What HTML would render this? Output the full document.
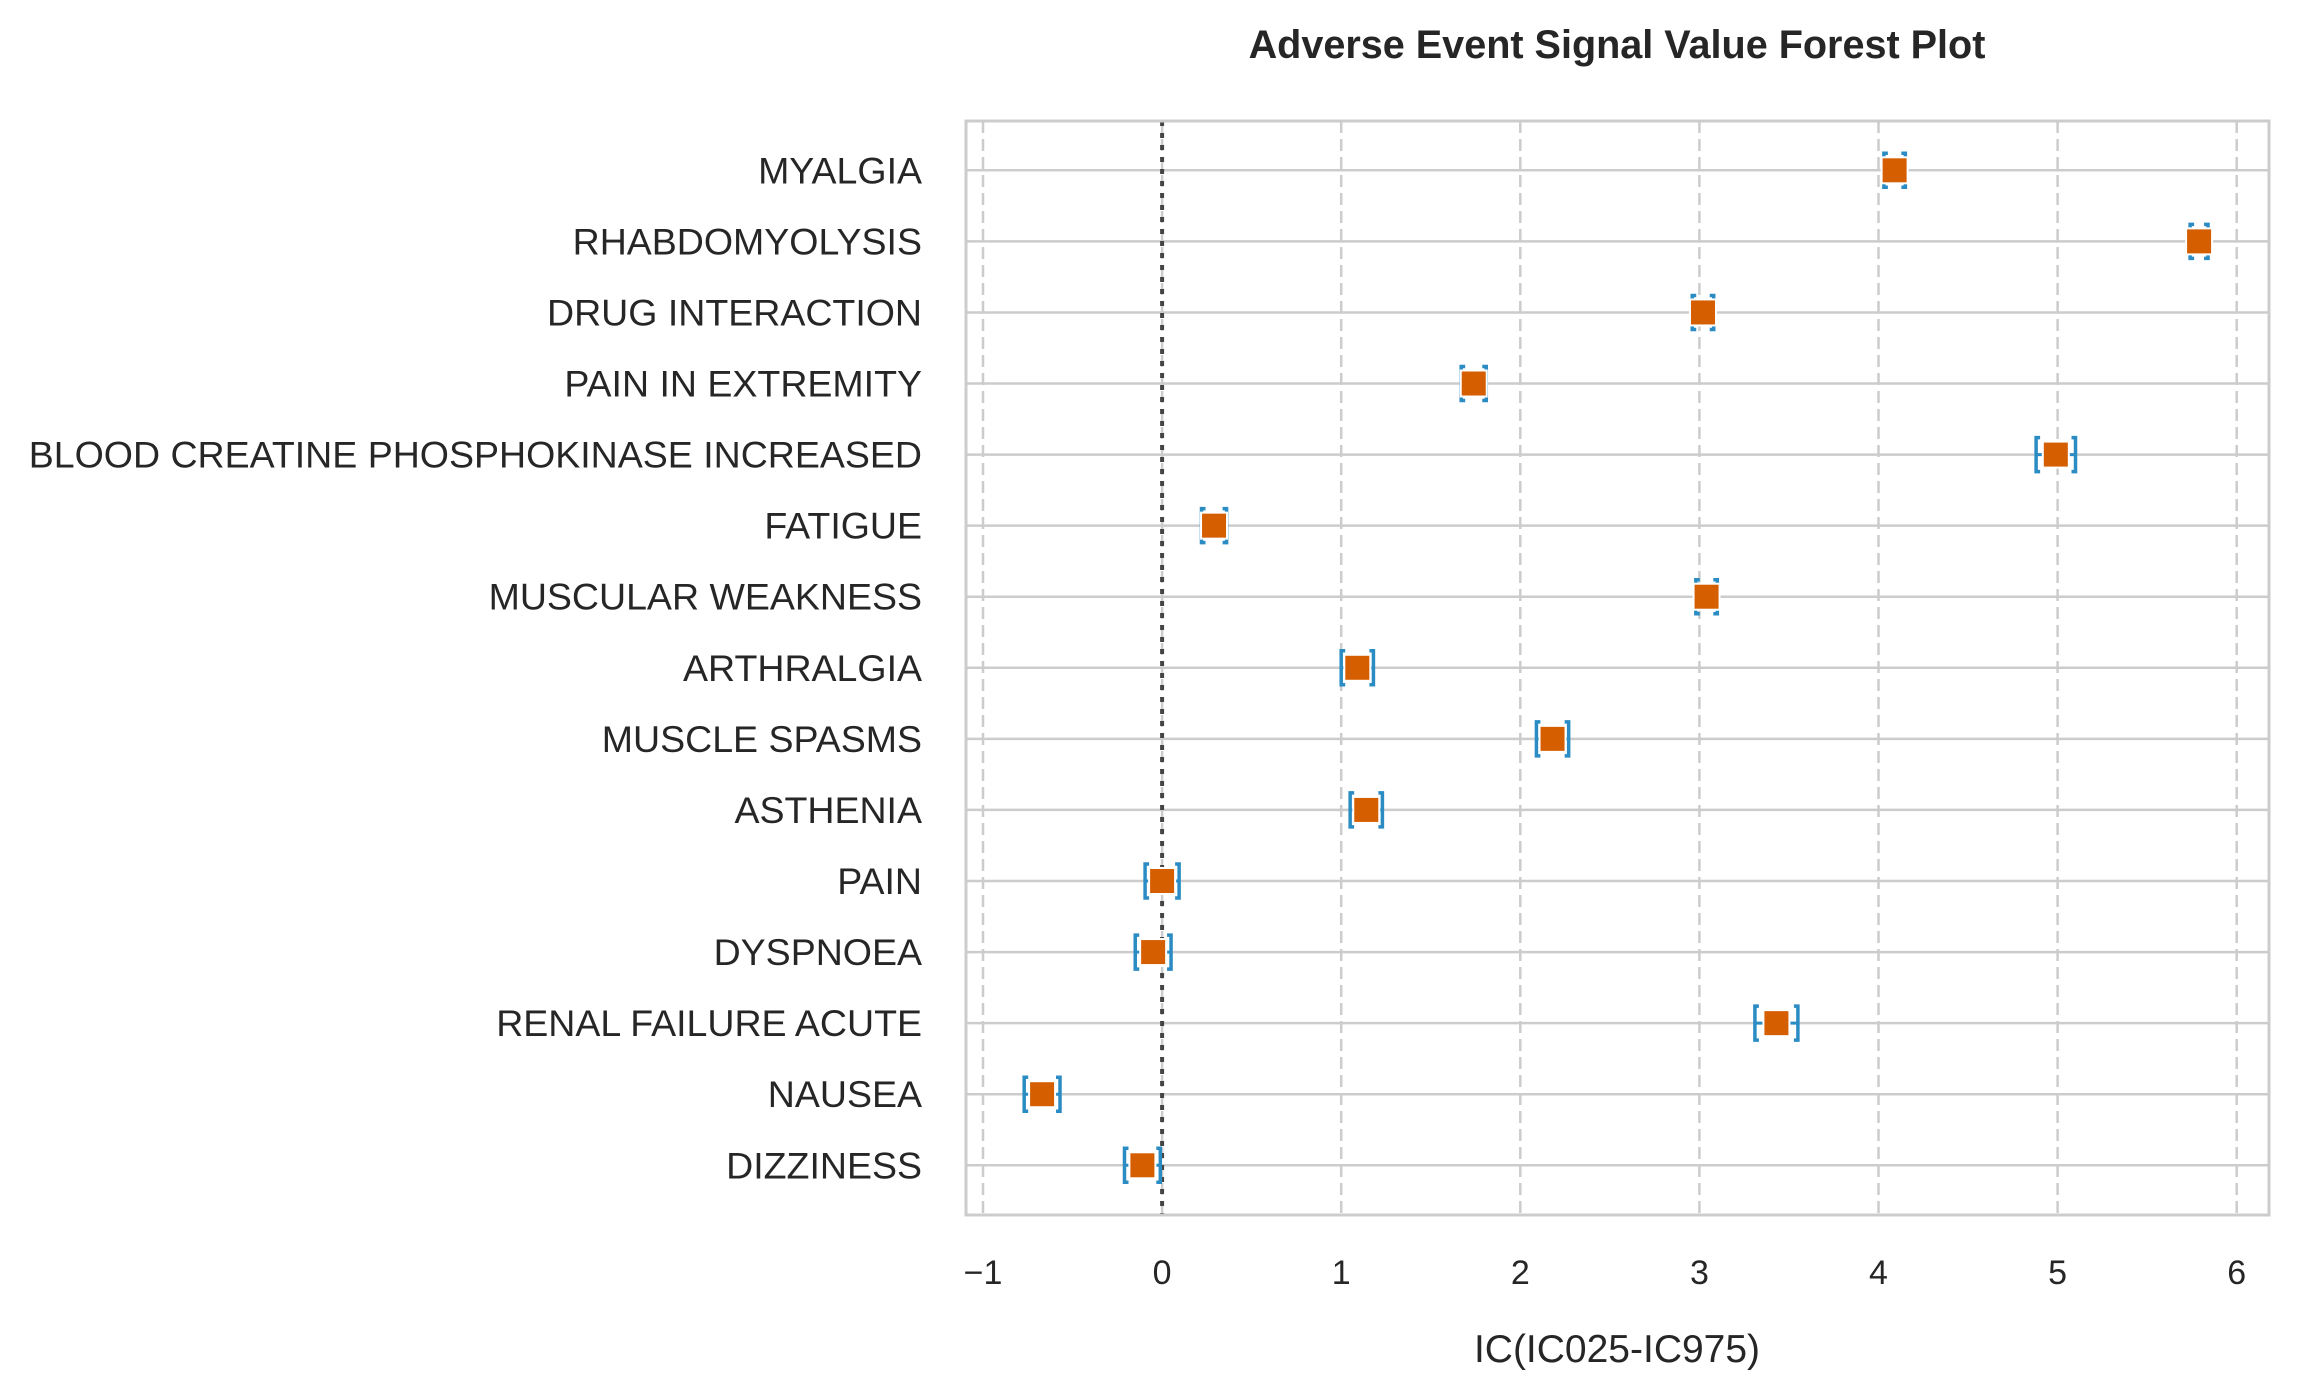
<!DOCTYPE html>
<html><head><meta charset="utf-8"><style>
html,body{margin:0;padding:0;background:#fff;}
svg{display:block;font-family:"Liberation Sans",Arial,sans-serif;}
</style></head><body>
<svg id="chart" width="2300" height="1400" viewBox="0 0 2300 1400" xmlns="http://www.w3.org/2000/svg">
<text x="1617" y="58" text-anchor="middle" font-size="39.6" font-weight="bold" fill="#262626">Adverse Event Signal Value Forest Plot</text>
<g id="grid"></g>
<g id="marks"></g>
<rect x="966" y="121" width="1303" height="1094" fill="none" stroke="#cccccc" stroke-width="3"/>
<text x="1617" y="1362" text-anchor="middle" font-size="39" fill="#262626">IC(IC025-IC975)</text>
</svg>
<script>
const categories = ["MYALGIA","RHABDOMYOLYSIS","DRUG INTERACTION","PAIN IN EXTREMITY","BLOOD CREATINE PHOSPHOKINASE INCREASED","FATIGUE","MUSCULAR WEAKNESS","ARTHRALGIA","MUSCLE SPASMS","ASTHENIA","PAIN","DYSPNOEA","RENAL FAILURE ACUTE","NAUSEA","DIZZINESS"];
const icValues = [4.09,5.79,3.02,1.74,4.99,0.29,3.04,1.09,2.18,1.14,0.0,-0.05,3.43,-0.67,-0.11];
const ic025 = [4.03,5.74,2.96,1.67,4.88,0.22,2.98,1.00,2.09,1.05,-0.095,-0.15,3.31,-0.77,-0.21];
const ic975 = [4.15,5.84,3.08,1.81,5.10,0.36,3.10,1.18,2.27,1.23,0.095,0.05,3.55,-0.57,-0.01];
const xTicks = [-1,0,1,2,3,4,5,6];
const xTickLabels = ["\u22121","0","1","2","3","4","5","6"];

const NS="http://www.w3.org/2000/svg";
const L=966,R=2269,T=121,B=1215;
const x0px=983,unitPx=179.1;
function xs(v){return x0px+(v+1)*unitPx;}
const rowTop=170.3,rowStep=71.07;
function ys(i){return rowTop+i*rowStep;}
function mk(tag,attrs,parent){const e=document.createElementNS(NS,tag);for(const k in attrs)e.setAttribute(k,attrs[k]);parent.appendChild(e);return e;}
const grid=document.getElementById('grid'),marks=document.getElementById('marks'),svg=document.getElementById('chart');

xTicks.forEach((t,i)=>{
  const g=mk('line',{x1:xs(t),x2:xs(t),y1:T,y2:B,stroke:'#cccccc','stroke-width':2.5,'stroke-dasharray':'12,6'},grid);
  
  
  const tl=mk('text',{x:xs(t),y:1284,'text-anchor':'middle','font-size':34,fill:'#262626'},svg);
  tl.textContent=xTickLabels[i];
  
  
});
categories.forEach((c,i)=>{
  const g=mk('line',{x1:L,x2:R,y1:ys(i),y2:ys(i),stroke:'#cccccc','stroke-width':2.5},grid);
  
  
  const tl=mk('text',{x:922,y:ys(i)+13,'text-anchor':'end','font-size':37.5,fill:'#262626'},svg);
  tl.textContent=c;
  
  
});
const zl=mk('line',{x1:xs(0),x2:xs(0),y1:T,y2:B,stroke:'#444444','stroke-width':4,'stroke-dasharray':'5,7'},grid);



categories.forEach((c,i)=>{
  const y=ys(i),x1=xs(ic025[i]),x2=xs(ic975[i]),xc=xs(icValues[i]);
  const ln=mk('line',{x1:x1,x2:x2,y1:y,y2:y,stroke:'#2b8cc4','stroke-width':3},marks);
  
  
  [[x1,1],[x2,-1]].forEach(([xx,d])=>{
    const cp=mk('path',{d:`M${xx+d*4},${y-17} L${xx},${y-17} L${xx},${y+17} L${xx+d*4},${y+17}`,fill:'none',stroke:'#2b8cc4','stroke-width':3.5},marks);
    
    
  });
  const m=mk('rect',{x:xc-13,y:y-13,width:26,height:26,fill:'#d55e00',stroke:'#ffffff','stroke-width':2},marks);
  
  
});
</script>
</body></html>
